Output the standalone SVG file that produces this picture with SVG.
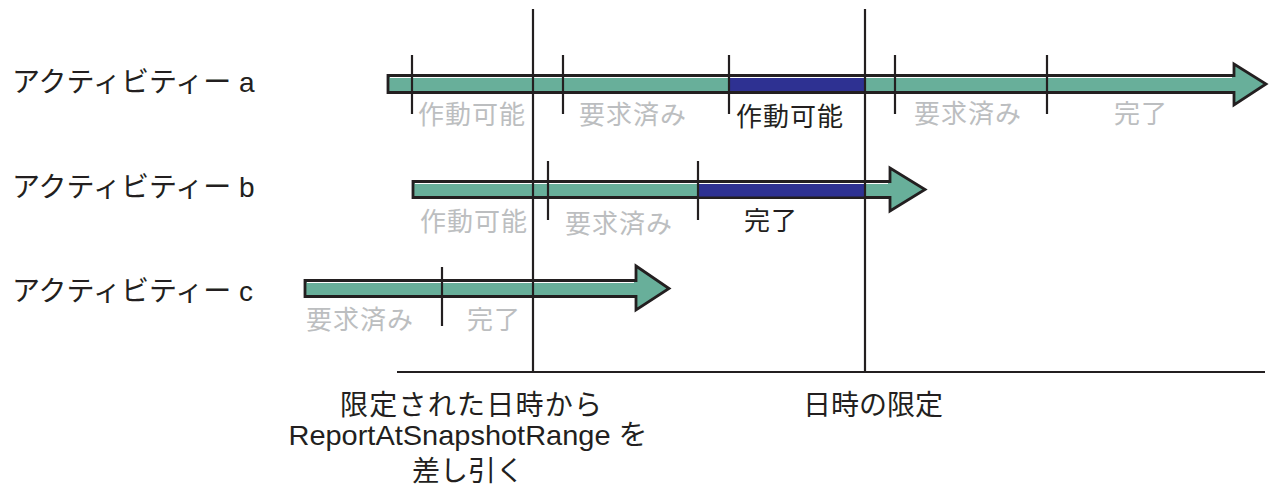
<svg xmlns="http://www.w3.org/2000/svg" width="1273" height="491" viewBox="0 0 1273 491">
<style>
text{font-family:"Liberation Sans","Noto Sans CJK JP",sans-serif;}
.lbl{font-size:28px;fill:#231f20;}
.st{font-size:26px;letter-spacing:1px;text-anchor:middle;}
.g{fill:#bcbec0;}
.k{fill:#231f20;}
.bar{fill:#68af9a;stroke:#231f20;stroke-width:2.8;stroke-linejoin:miter;}
.hl{fill:none;stroke:#ffffff;stroke-width:1;}
.blue{fill:#2e3192;}
.tick{stroke:#231f20;stroke-width:2.2;fill:none;}
.bot{font-size:28px;fill:#231f20;text-anchor:middle;}
</style>
<rect width="1273" height="491" fill="#ffffff"/>
<g id="label-a"><text class="lbl" x="12" y="92">アクティビティー a</text></g>
<g id="label-b"><text class="lbl" x="12" y="197">アクティビティー b</text></g>
<g id="label-c"><text class="lbl" x="12" y="301">アクティビティー c</text></g>

<g id="activity-a">
<path class="bar" d="M388,75.5 H1234 V64 L1266,84 L1234,105 V92.5 H388 Z"/>
<path class="hl" d="M390,77.5 H1232"/>
<rect class="blue" x="729" y="78" width="136" height="13"/>
</g>
<g id="activity-b">
<path class="bar" d="M413,181.5 H890 V168 L925,189.5 L890,211 V197.5 H413 Z"/>
<path class="hl" d="M415,183.5 H888"/>
<rect class="blue" x="698" y="184" width="167" height="12.5"/>
</g>
<g id="activity-c">
<path class="bar" d="M305,280.5 H636 V266 L669,288.5 L636,310 V296.5 H305 Z"/>
<path class="hl" d="M307,282.5 H634"/>
</g>

<g id="connectors">
<path class="tick" d="M533,9 V372 M865,9 V372 M397,372 H1265"/>
<path class="tick" d="M412,55 V114 M563,55 V114 M729,55 V114 M895,55 V114 M1047,55 V114"/>
<path class="tick" d="M548,161 V220 M698,161 V220"/>
<path class="tick" d="M442,267 V326"/>
</g>

<g id="states-a">
<text class="st g" x="472" y="124">作動可能</text>
<text class="st g" x="633" y="124">要求済み</text>
<text class="st k" x="790" y="126">作動可能</text>
<text class="st g" x="968" y="123">要求済み</text>
<text class="st g" x="1141" y="123">完了</text>
</g>
<g id="states-b">
<text class="st g" x="474" y="231">作動可能</text>
<text class="st g" x="619" y="233">要求済み</text>
<text class="st k" x="771" y="230">完了</text>
</g>
<g id="states-c">
<text class="st g" x="360" y="329">要求済み</text>
<text class="st g" x="494" y="329">完了</text>
</g>

<g id="marker-start">
<text class="bot" x="471" y="415" textLength="262" lengthAdjust="spacing">限定された日時から</text>
<text class="bot" x="468" y="445" textLength="359" lengthAdjust="spacingAndGlyphs">ReportAtSnapshotRange を</text>
<text class="bot" x="468" y="481">差し引く</text>
</g>
<g id="marker-end">
<text class="bot" x="873" y="415">日時の限定</text>
</g>
</svg>
